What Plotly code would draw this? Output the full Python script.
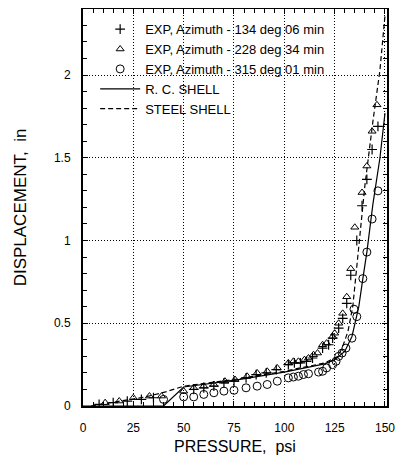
import plotly.graph_objects as go

# ---------------- data ----------------
pressure_134 = [8, 15, 22, 29, 35, 55, 60, 65, 70, 75, 81, 86, 91, 96, 102, 105, 108, 111, 114,
                119, 122, 124, 127, 129, 131, 133, 136, 138.6, 141, 143.6, 146.5]
disp_134 = [0.01, 0.02, 0.03, 0.04, 0.05, 0.10, 0.11, 0.12, 0.14, 0.15, 0.17, 0.19, 0.20, 0.22, 0.25,
            0.26, 0.26, 0.27, 0.29, 0.35, 0.37, 0.41, 0.47, 0.53, 0.62, 0.79, 1.00, 1.21, 1.37, 1.55, 1.69]

pressure_228 = [11, 18, 25, 33, 39, 50, 55, 60, 65, 70.5, 75.5, 81.5, 86.5, 91.5, 96.5, 102, 104.5,
                107, 110, 112, 114.5, 116.5, 119, 121, 124, 125, 127, 129, 131, 133, 135, 138.6,
                141, 143.6, 146]
disp_228 = [0.02, 0.03, 0.05, 0.06, 0.06, 0.09, 0.11, 0.12, 0.13, 0.15, 0.16, 0.18, 0.20, 0.21, 0.23,
            0.26, 0.27, 0.27, 0.28, 0.29, 0.31, 0.32, 0.37, 0.38, 0.42, 0.44, 0.50, 0.56, 0.66, 0.83,
            1.08, 1.29, 1.45, 1.66, 1.82]

pressure_315 = [40, 50, 55, 60, 65, 70, 75, 81, 86.5, 91.5, 96.5, 102, 104.5, 107, 109.5, 112, 117,
                119, 121, 124, 125.7, 127, 128.7, 130.6, 133.6, 134.6, 136, 139, 141, 143.6, 146.5]
disp_315 = [0.04, 0.055, 0.055, 0.07, 0.08, 0.09, 0.095, 0.11, 0.12, 0.13, 0.15, 0.17, 0.175, 0.18,
            0.19, 0.195, 0.205, 0.21, 0.23, 0.25, 0.27, 0.30, 0.32, 0.35, 0.41, 0.585, 0.54, 0.77,
            0.93, 1.13, 1.30]

pressure_rc = [0, 40, 50, 75, 100, 120, 125, 130, 133.6, 137, 139, 141, 144, 147.5, 150]
disp_rc = [0, 0, 0.115, 0.155, 0.205, 0.255, 0.28, 0.33, 0.42, 0.60, 0.77, 0.93, 1.22, 1.50, 1.77]

pressure_steel = [4, 20, 31, 41, 50, 75, 100, 120, 126.7, 129, 131.6, 134, 135.5, 137, 140, 144,
                  147.5, 150]
disp_steel = [0, 0.03, 0.055, 0.085, 0.12, 0.16, 0.21, 0.26, 0.30, 0.36, 0.45, 0.60, 0.78, 1.00,
              1.33, 1.72, 2.03, 2.36]

x_ticks = [0, 25, 50, 75, 100, 125, 150]
x_tick_labels = ["0", "25", "50", "75", "100", "125", "150"]
y_ticks = [0, 0.5, 1, 1.5, 2]
y_tick_labels = ["0", "0.5", "1", "1.5", "2"]

FONT = "Liberation Sans, Arial, sans-serif"

fig = go.Figure()
fig.add_trace(go.Scatter(x=pressure_134, y=disp_134, mode="markers",
                         name="EXP, Azimuth - 134 deg 06 min",
                         marker=dict(symbol="cross-thin-open", size=7, color="black",
                                     line=dict(color="black", width=1.2))))
fig.add_trace(go.Scatter(x=pressure_228, y=disp_228, mode="markers",
                         name="EXP, Azimuth - 228 deg 34 min",
                         marker=dict(symbol="triangle-up-open", size=7, color="black",
                                     line=dict(color="black", width=1))))
fig.add_trace(go.Scatter(x=pressure_315, y=disp_315, mode="markers",
                         name="EXP, Azimuth - 315 deg 01 min",
                         marker=dict(symbol="circle-open", size=8, color="black",
                                     line=dict(color="black", width=1))))
fig.add_trace(go.Scatter(x=pressure_rc, y=disp_rc, mode="lines", name="R. C. SHELL",
                         line=dict(color="black", width=1.2)))
fig.add_trace(go.Scatter(x=pressure_steel, y=disp_steel, mode="lines", name="STEEL SHELL",
                         line=dict(color="black", width=1.2, dash="5px,3px")))

axis_common = dict(
    showline=True, linecolor="black", linewidth=2, mirror="allticks",
    showgrid=True, gridcolor="black", gridwidth=1, griddash="1px,2px",
    ticks="inside", ticklen=5, tickwidth=1, tickcolor="black",
    zeroline=False,
    tickfont=dict(family=FONT, size=12, color="black"),
)

fig.update_xaxes(range=[0, 151], tickmode="array", tickvals=x_ticks, ticktext=x_tick_labels,
                 minor=dict(dtick=5, ticks="inside", ticklen=4, tickcolor="black", showgrid=False),
                 title=dict(text="PRESSURE,  psi", font=dict(family=FONT, size=16, color="black"),
                            standoff=6),
                 ticklabelstandoff=10, **axis_common)
fig.update_yaxes(range=[0, 2.399], tickmode="array", tickvals=y_ticks, ticktext=y_tick_labels,
                 minor=dict(dtick=0.1, ticks="inside", ticklen=4, tickcolor="black", showgrid=False),
                 title=dict(text="DISPLACEMENT,  in", font=dict(family=FONT, size=17, color="black"),
                            standoff=23),
                 ticklabelstandoff=8, **axis_common)

# page body has an 8px default margin, so the figure is sized to fit the 404x459 window
fig.update_layout(
    width=396, height=451,
    margin=dict(l=75, r=17, t=1, b=53, autoexpand=False),
    paper_bgcolor="white", plot_bgcolor="white",
    font=dict(family=FONT, color="black"),
    showlegend=True,
    legend=dict(x=0.04, y=0.987, xanchor="left", yanchor="top",
                bgcolor="rgba(255,255,255,0)", borderwidth=0,
                font=dict(family=FONT, size=13, color="black"),
                itemwidth=40, tracegroupgap=0),
)

fig.write_html("out.html")
